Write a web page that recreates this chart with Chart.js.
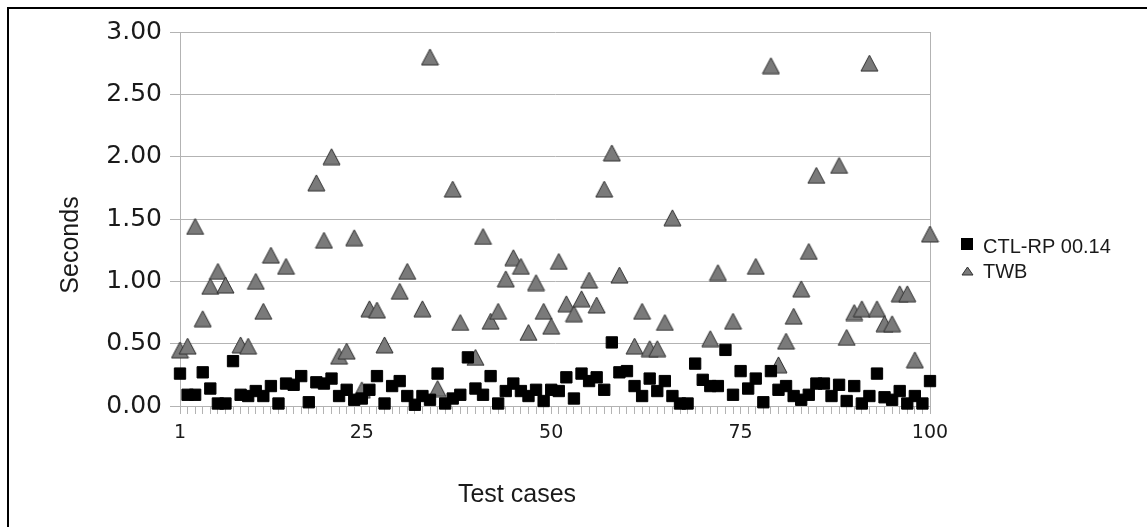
<!DOCTYPE html>
<html>
<head>
<meta charset="utf-8">
<script src="https://cdn.jsdelivr.net/npm/chart.js@4.4.1/dist/chart.umd.min.js"></script>
<style>
  html, body { margin: 0; padding: 0; background: #fff; overflow: hidden; }
  #frame { position: absolute; left: 7px; top: 7px; width: 1200px; height: 600px; border: 2px solid #000; }
  #chart { position: absolute; left: 0; top: 0; }
</style>
</head>
<body>
<div id="frame"></div>
<canvas id="chart" width="1147" height="527"></canvas>
<script>
// test case numbers 1..100
const cases = Array.from({ length: 100 }, (_, i) => i + 1);

const ctlRp = [
  0.26, 0.09, 0.09, 0.27, 0.14, 0.02, 0.02, 0.36, 0.09, 0.08,
  0.12, 0.08, 0.16, 0.02, 0.18, 0.17, 0.24, 0.03, 0.19, 0.18,
  0.22, 0.08, 0.13, 0.05, 0.06, 0.13, 0.24, 0.02, 0.16, 0.20,
  0.08, 0.01, 0.08, 0.05, 0.26, 0.02, 0.06, 0.09, 0.39, 0.14,
  0.09, 0.24, 0.02, 0.12, 0.18, 0.12, 0.08, 0.13, 0.04, 0.13,
  0.12, 0.23, 0.06, 0.26, 0.20, 0.23, 0.13, 0.51, 0.27, 0.28,
  0.16, 0.08, 0.22, 0.12, 0.20, 0.08, 0.02, 0.02, 0.34, 0.21,
  0.16, 0.16, 0.45, 0.09, 0.28, 0.14, 0.22, 0.03, 0.28, 0.13,
  0.16, 0.08, 0.05, 0.09, 0.18, 0.18, 0.08, 0.17, 0.04, 0.16,
  0.02, 0.08, 0.26, 0.07, 0.05, 0.12, 0.02, 0.08, 0.02, 0.20
];

// null = not visible in the plot (above 3.00 s)
const twb = [
  0.45, 0.48, 1.44, 0.70, 0.96, 1.08, 0.97, null, 0.49, 0.48,
  1.00, 0.76, 1.21, null, 1.12, null, null, null, 1.79, 1.33,
  2.00, 0.40, 0.44, 1.35, 0.13, 0.78, 0.77, 0.49, null, 0.92,
  1.08, null, 0.78, 2.80, 0.14, null, 1.74, 0.67, null, 0.39,
  1.36, 0.68, 0.76, 1.02, 1.19, 1.12, 0.59, 0.99, 0.76, 0.64,
  1.16, 0.82, 0.74, 0.86, 1.01, 0.81, 1.74, 2.03, 1.05, null,
  0.48, 0.76, 0.46, 0.46, 0.67, 1.51, null, null, null, null,
  0.54, 1.07, null, 0.68, null, null, 1.12, null, 2.73, 0.33,
  0.52, 0.72, 0.94, 1.24, 1.85, null, null, 1.93, 0.55, 0.75,
  0.78, 2.75, 0.78, 0.66, 0.66, 0.90, 0.90, 0.37, null, 1.38
];

const seriesNames = ['CTL-RP 00.14', 'TWB'];
const xLabelled = [1, 25, 50, 75, 100];
const xTitle = 'Test cases';
const yTitle = 'Seconds';

const GRID = '#b3b3b3';
const TEXT = '#1a1a1a';
const TRI_FILL = '#7a7a7a';
const TRI_EDGE = '#2e2e2e';

function toPoints(values) {
  return cases.map((c, i) => ({ x: c, y: values[i] })).filter(p => p.y !== null);
}

// LibreOffice-style triangle symbol, centred on the point
function triangleSymbol(w, h) {
  const c = document.createElement('canvas');
  c.width = w + 2; c.height = h + 2;
  const g = c.getContext('2d');
  g.beginPath();
  g.moveTo(c.width / 2, 1);
  g.lineTo(w + 1, h + 1);
  g.lineTo(1, h + 1);
  g.closePath();
  g.fillStyle = TRI_FILL; g.fill();
  g.strokeStyle = TRI_EDGE; g.lineWidth = 1; g.stroke();
  return c;
}

const sideText = {
  id: 'sideText',
  afterDraw(chart) {
    const ctx = chart.ctx;
    ctx.save();
    ctx.fillStyle = TEXT;
    ctx.font = '25px "Liberation Sans", Arial, sans-serif';
    ctx.textAlign = 'center';
    ctx.textBaseline = 'alphabetic';
    ctx.fillText(xTitle, 517, 502);
    ctx.save();
    ctx.translate(78, 245);
    ctx.rotate(-Math.PI / 2);
    ctx.fillText(yTitle, 0, 0);
    ctx.restore();

    // legend
    ctx.font = '20px "Liberation Sans", Arial, sans-serif';
    ctx.textAlign = 'left';
    ctx.fillStyle = '#000';
    ctx.fillRect(961, 238, 12, 12);
    ctx.fillStyle = TEXT;
    ctx.fillText(seriesNames[0], 983, 253);
    ctx.drawImage(triangleSymbol(11, 8), 961, 266);
    ctx.fillStyle = TEXT;
    ctx.fillText(seriesNames[1], 983, 278);
    ctx.restore();
  }
};

new Chart(document.getElementById('chart'), {
  type: 'scatter',
  data: {
    datasets: [
      {
        label: seriesNames[0],
        data: toPoints(ctlRp),
        pointStyle: 'rect',
        pointRadius: 8,
        backgroundColor: '#000',
        borderColor: '#000',
        borderWidth: 1,
        clip: false
      },
      {
        label: seriesNames[1],
        data: toPoints(twb),
        pointStyle: triangleSymbol(17, 16),
        pointRadius: 9,
        backgroundColor: TRI_FILL,
        borderColor: TRI_EDGE,
        clip: false
      }
    ]
  },
  options: {
    responsive: false,
    animation: false,
    devicePixelRatio: 1,
    layout: { padding: { left: 0, top: 32, right: 217, bottom: 0 } },
    plugins: { legend: { display: false }, tooltip: { enabled: false } },
    scales: {
      x: {
        type: 'linear', min: 1, max: 100,
        afterFit: s => { s.height = 121; },
        border: { color: GRID, width: 1 },
        grid: {
          drawOnChartArea: true,
          color: c => (c.tick && c.tick.value === 100 ? GRID : 'rgba(0,0,0,0)'),
          tickColor: GRID, tickLength: 8
        },
        ticks: {
          stepSize: 1, autoSkip: false, maxRotation: 0, padding: 8,
          color: TEXT, font: { family: 'DejaVu Sans', size: 19 },
          callback: v => (xLabelled.includes(v) ? String(v) : '')
        }
      },
      y: {
        min: 0, max: 3,
        afterFit: s => { s.width = 180; },
        border: { color: GRID, width: 1 },
        grid: { color: GRID, tickLength: 10 },
        ticks: {
          stepSize: 0.5, padding: 8,
          color: TEXT, font: { family: 'DejaVu Sans', size: 25 },
          callback: v => v.toFixed(2)
        }
      }
    }
  },
  plugins: [sideText]
});
</script>
</body>
</html>
